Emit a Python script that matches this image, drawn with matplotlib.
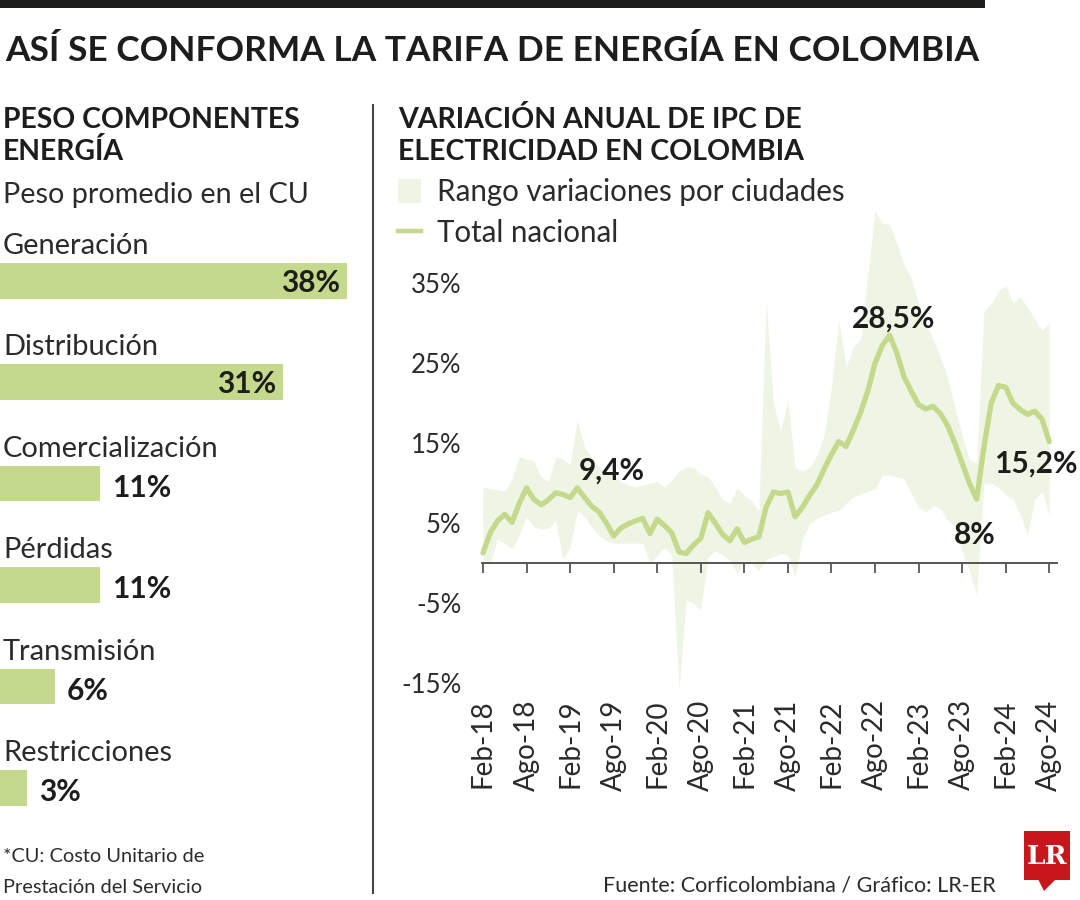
import matplotlib
matplotlib.use("Agg")
import matplotlib.pyplot as plt
from matplotlib import font_manager
from matplotlib.patches import Rectangle, Polygon
from matplotlib.lines import Line2D


def has_font(name):
    try:
        font_manager.findfont(font_manager.FontProperties(family=name), fallback_to_default=False)
        return True
    except Exception:
        return False


SANS = "Lato" if has_font("Lato") else "DejaVu Sans"
NARROW = "Liberation Sans Narrow" if has_font("Liberation Sans Narrow") else SANS

# --- datos panel izquierdo ---
componentes = ["Generación", "Distribución", "Comercialización", "Pérdidas", "Transmisión", "Restricciones"]
pesos = [38, 31, 11, 11, 6, 3]

# --- datos panel derecho (mensual feb-18 a ago-24) ---
total_nacional = [1.3, 3.8, 5.3, 6.1, 5.1, 7.5, 9.4, 8.0, 7.3, 7.9, 8.8, 8.6,
                  8.2, 9.4, 8.2, 7.1, 6.4, 5.0, 3.4, 4.4, 4.9, 5.3, 5.6, 3.7,
                  5.5, 4.7, 3.8, 1.4, 1.2, 2.3, 3.1, 6.3, 5.0, 3.6, 2.8, 4.3,
                  2.6, 3.0, 3.3, 7.0, 8.9, 8.7, 8.9, 5.8, 7.0, 8.5, 9.8, 11.8,
                  13.6, 15.2, 14.6, 16.6, 18.8, 21.5, 25.0, 27.2, 28.5, 26.3, 23.3, 21.5,
                  19.8, 19.3, 19.6, 18.7, 17.2, 15.0, 12.5, 10.0, 8.0, 14.5, 20.0, 22.2,
                  22.0, 20.0, 19.2, 18.6, 19.0, 18.0, 15.2]
rango_max = [9.5, 9.3, 9.2, 9.0, 10.5, 13.3, 13.0, 12.8, 10.8, 10.2, 13.3, 13.0,
             12.3, 17.9, 14.5, 13.2, 12.0, 11.5, 11.0, 10.2, 9.8, 9.5, 9.8, 10.0,
             10.2, 9.5, 10.4, 11.5, 12.0, 12.0, 11.2, 10.8, 9.5, 7.9, 7.5, 9.4,
             8.5, 7.8, 6.5, 32.8, 20.0, 16.5, 20.4, 12.0, 11.5, 12.0, 13.5, 16.0,
             22.0, 30.4, 24.5, 27.0, 28.0, 36.0, 44.0, 42.5, 42.3, 40.0, 37.3, 35.6,
             32.5, 30.0, 28.0, 25.8, 23.2, 19.5, 16.0, 13.0, 12.5, 31.5, 32.5, 34.0,
             34.7, 32.5, 33.3, 32.0, 30.5, 29.1, 30.0]
rango_min = [0.5, 0.0, 3.0, 2.5, 1.8, 3.5, 5.8, 4.5, 4.3, 4.3, 5.4, 0.5,
             2.0, 6.6, 5.8, 4.5, 3.5, 2.8, 2.5, 2.5, 2.5, 2.5, 2.5, 0.0,
             1.0, 2.0, 1.0, -15.8, -4.6, -5.0, -5.9, 0.8, 1.5, 1.0, 0.4, -1.3,
             0.4, 0.0, -0.9, 0.5, 0.8, 1.2, 1.0, -1.7, 3.0, 5.0, 5.6, 6.0,
             6.4, 6.6, 7.5, 8.3, 8.6, 9.0, 9.3, 11.0, 11.0, 10.8, 10.5, 8.7,
             7.0, 6.4, 7.2, 6.8, 5.4, 4.5, 1.6, -1.0, -4.0, 10.0, 10.0, 9.5,
             8.5, 8.0, 6.0, 3.5, 8.0, 9.0, 6.0]
meses = list(range(len(total_nacional)))
ticks_x = list(range(0, 79, 6))
etiquetas_x = ["Feb-18", "Ago-18", "Feb-19", "Ago-19", "Feb-20", "Ago-20", "Feb-21",
               "Ago-21", "Feb-22", "Ago-22", "Feb-23", "Ago-23", "Feb-24", "Ago-24"]
ticks_y = [-15, -5, 5, 15, 25, 35]
# (posicion del texto en meses, en %, texto)
anotaciones = [(17.8, 11.6, "9,4%"), (56.5, 30.6, "28,5%"), (67.8, 3.5, "8%"), (76.2, 12.5, "15,2%")]

VERDE = "#c4d98b"
BANDA = "#eef5e5"
NEGRO = "#1d1d1b"
GRIS = "#2b2b2b"

W, H = 1080, 900
fig = plt.figure(figsize=(W / 100, H / 100), dpi=100)


def fx(x):
    return x / W


def fy(y):
    return 1 - y / H


fitted = []


def txt(x, y, s, size=18, weight="normal", family=None, ha="left", width=None, color=NEGRO):
    t = fig.text(fx(x), fy(y), s, fontsize=size, fontweight=weight, family=family or SANS,
                 ha=ha, va="baseline", color=color)
    if width:
        fitted.append((t, width))
    return t


# barra negra superior y titulo
fig.patches.append(Rectangle((0, fy(8)), fx(985), 8 / H, transform=fig.transFigure,
                             color=NEGRO, lw=0))
titulo = txt(5, 61, "ASÍ SE CONFORMA LA TARIFA DE ENERGÍA EN COLOMBIA", 30, "bold", NARROW, width=973)

# panel izquierdo
t1 = txt(3, 128, "PESO COMPONENTES", 19, "bold", width=297)
t2 = txt(3, 160, "ENERGÍA", 19, "bold")
sub = txt(3, 203, "Peso promedio en el CU", 20, width=305, color=GRIS)

escala = 347 / 38.0
nombres = []
for i, (nom, p) in enumerate(zip(componentes, pesos)):
    base = 254 + i * 101.4
    nombres.append(txt(3, base, nom, 20, color=GRIS))
    top = 263 + i * 101.4
    fig.patches.append(Rectangle((0, fy(top + 35.5)), fx(p * escala), 35.5 / H,
                                 transform=fig.transFigure, color=VERDE, lw=0))
    if p > 20:
        txt(p * escala - 7, top + 29, f"{p}%", 21.5, "bold", ha="right")
    else:
        txt(p * escala + 12, top + 31, f"{p}%", 21.5, "bold")
fitted.append((nombres[0], 147))

n1 = txt(3, 862, "*CU: Costo Unitario de", 16, "normal", NARROW, width=203, color=GRIS)
n2 = txt(3, 893, "Prestación del Servicio", 16, "normal", NARROW, color=GRIS)

# separador
fig.lines.append(Line2D([fx(373), fx(373)], [fy(105), fy(893)], transform=fig.transFigure,
                        color="#444444", lw=1.5))

# panel derecho: titulos y leyenda
r1 = txt(398, 128, "VARIACIÓN ANUAL DE IPC DE", 19, "bold", width=405)
r2 = txt(398, 160, "ELECTRICIDAD EN COLOMBIA", 19, "bold")
fig.patches.append(Rectangle((fx(398), fy(203)), 23 / W, 24 / H, transform=fig.transFigure,
                             color=BANDA, lw=0))
fig.lines.append(Line2D([fx(398), fx(421)], [fy(231), fy(231)], transform=fig.transFigure,
                        color=VERDE, lw=3.2))
l1 = txt(437, 201, "Rango variaciones por ciudades", 19, width=408, color=GRIS)
l2 = txt(437, 242, "Total nacional", 19, color=GRIS)

# grafico de lineas
ax = fig.add_axes([fx(470), fy(700), (1065 - 470) / W, 500 / H])
ax.fill_between(meses, rango_min, rango_max, color=BANDA, lw=0, zorder=1)
ax.plot(meses, total_nacional, color=VERDE, lw=3.8, solid_joinstyle="round",
        solid_capstyle="round", zorder=3)
ax.set_xlim(-1.79, 80.17)
ax.set_ylim(-17.1, 45.4)
for s in ["top", "right", "left"]:
    ax.spines[s].set_visible(False)
ax.spines["bottom"].set_position(("data", 0))
ax.spines["bottom"].set_bounds(-0.1, 79)
ax.spines["bottom"].set_color("#555555")
ax.spines["bottom"].set_linewidth(1.4)
ax.spines["bottom"].set_zorder(2)
ax.set_xticks(ticks_x)
ax.set_xticklabels(etiquetas_x, rotation=90, fontsize=20, family=SANS, fontweight="normal",
                   color=GRIS, va="top", ha="center")
ax.tick_params(axis="x", direction="out", length=7, width=1.3, color="#555555", pad=91)
ax.set_yticks(ticks_y)
ax.set_yticklabels([f"{v}%" for v in ticks_y], fontsize=18.5, family=SANS, fontweight="normal",
                   color=GRIS)
ax.tick_params(axis="y", length=0, pad=6)
ax.patch.set_alpha(0)

for xi, yi, s in anotaciones:
    ax.text(xi, yi, s, fontsize=21.5, fontweight="bold", family=SANS, color=NEGRO,
            ha="center", va="center", zorder=4)

# fuente y logo
txt(603, 891, "Fuente: Corficolombiana / Gráfico: LR-ER", 14, width=394, color=GRIS)
fig.patches.append(Rectangle((fx(1024), fy(880)), 46 / W, 49 / H, transform=fig.transFigure,
                             color="#c8161d", lw=0))
fig.patches.append(Polygon([(fx(1038), fy(879)), (fx(1056), fy(879)), (fx(1044), fy(891))],
                           closed=True, transform=fig.transFigure, color="#c8161d", lw=0))
fig.text(fx(1047), fy(856), "LR", fontsize=19, fontweight="bold", family="DejaVu Serif",
         color="white", ha="center", va="center")

# ajuste de anchos
fig.canvas.draw()
rend = fig.canvas.get_renderer()
for t, w in fitted:
    bb = t.get_window_extent(rend)
    t.set_fontsize(t.get_fontsize() * w / bb.width)
t2.set_fontsize(t1.get_fontsize())
r2.set_fontsize(r1.get_fontsize())
l2.set_fontsize(l1.get_fontsize())
n2.set_fontsize(n1.get_fontsize())
for t in nombres[1:]:
    t.set_fontsize(nombres[0].get_fontsize())

fig.savefig("out.png", dpi=100)
